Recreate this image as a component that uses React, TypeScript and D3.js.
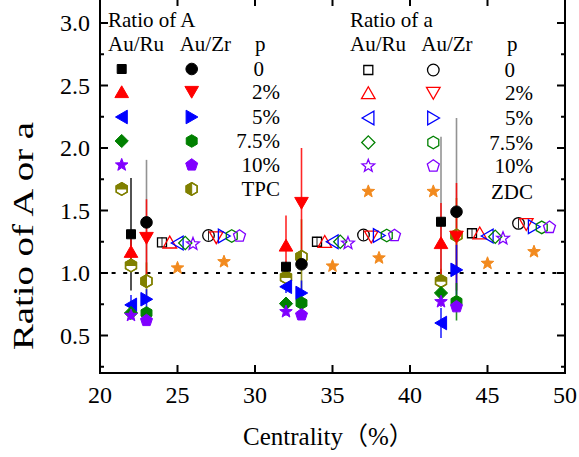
import React from 'react';
import * as d3 from 'd3';

const W = 579;
const H = 457;

// ---------- axes ----------
const xTicks = [20, 25, 30, 35, 40, 45, 50];
const yTicks = [0.5, 1.0, 1.5, 2.0, 2.5, 3.0];
const yMinorTicks = [0.25, 0.75, 1.25, 1.75, 2.25, 2.75];

// ---------- Ratio of A (filled markers) ----------
const xA_AuRu = [22, 32, 42];
const xA_AuZr = [23, 33, 43];

const A_AuRu_p0 = [1.31, 1.05, 1.41];
const A_AuRu_p2 = [1.17, 1.22, 1.24];
const A_AuRu_p5 = [0.745, 0.89, 0.6];
const A_AuRu_p75 = [0.68, 0.755, 0.84];
const A_AuRu_p10 = [0.66, 0.69, 0.77];
const A_AuRu_TPC = [1.06, 0.965, 0.935];

const A_AuRu_p0_err = [0.45, 0.04, 0.68];
const A_AuRu_p2_err = [0.1, 0.24, 0.32];
const A_AuRu_p5_err = [0.08, 0.05, 0.12];
const A_AuRu_p75_err = [0.04, 0.05, 0.06];
const A_AuRu_p10_err = [0.03, 0.03, 0.04];
const A_AuRu_TPC_err = [0.05, 0.05, 0.1];

const A_AuZr_p0 = [1.405, 1.07, 1.49];
const A_AuZr_p2 = [1.28, 1.56, 1.29];
const A_AuZr_p5 = [0.79, 0.84, 1.025];
const A_AuZr_p75 = [0.68, 0.76, 0.77];
const A_AuZr_p10 = [0.62, 0.665, 0.73];
const A_AuZr_TPC = [0.935, 1.13, 1.3];

const A_AuZr_p0_err = [0.5, 0.05, 0.75];
const A_AuZr_p2_err = [0.31, 0.44, 0.43];
const A_AuZr_p5_err = [0.08, 0.1, 0.2];
const A_AuZr_p75_err = [0.05, 0.06, 0.15];
const A_AuZr_p10_err = [0.03, 0.03, 0.04];
const A_AuZr_TPC_err = [0.15, 0.3, 0.3];

// ---------- Ratio of a (open markers) ----------
const xa_AuRu_p0 = [24, 34, 44];
const xa_AuRu_p2 = [24.5, 34.5, 44.5];
const xa_AuRu_p5 = [25, 35, 45];
const xa_AuRu_p75 = [25.5, 35.5, 45.5];
const xa_AuRu_p10 = [26, 36, 46];
const xa_AuRu_ZDC = [25, 35, 45];

const a_AuRu_p0 = [1.245, 1.25, 1.318];
const a_AuRu_p2 = [1.245, 1.25, 1.318];
const a_AuRu_p5 = [1.24, 1.25, 1.296];
const a_AuRu_p75 = [1.24, 1.25, 1.29];
const a_AuRu_p10 = [1.232, 1.238, 1.277];
const a_AuRu_ZDC = [1.04, 1.055, 1.077];

const xa_AuZr_p0 = [27, 37, 47];
const xa_AuZr_p2 = [27.5, 37.5, 47.5];
const xa_AuZr_p5 = [28, 38, 48];
const xa_AuZr_p75 = [28.5, 38.5, 48.5];
const xa_AuZr_p10 = [29, 39, 49];
const xa_AuZr_ZDC = [28, 38, 48];

const a_AuZr_p0 = [1.3, 1.304, 1.397];
const a_AuZr_p2 = [1.285, 1.29, 1.39];
const a_AuZr_p5 = [1.296, 1.3, 1.37];
const a_AuZr_p75 = [1.296, 1.3, 1.365];
const a_AuZr_p10 = [1.296, 1.3, 1.365];
const a_AuZr_ZDC = [1.09, 1.12, 1.17];

const a_black_err = [0.04, 0.04, 0.04];

const pLabelsA = ['0', '2%', '5%', '7.5%', '10%', 'TPC'];
const pLabelsa = ['0', '2%', '5%', '7.5%', '10%', 'ZDC'];

// ---------- colours ----------
const BLACK = '#000000';
const RED = '#ff0000';
const BLUE = '#0000ff';
const GREEN = '#008000';
const PURPLE = '#8000ff';
const OLIVE = '#808000';
const ORANGE = '#f28a1e';
const GRAY = '#808080';

type Shape =
  | 'square' | 'circle' | 'triUp' | 'triDown' | 'triLeft' | 'triRight'
  | 'diamond' | 'star' | 'pentagon' | 'hexagon' | 'hexTop' | 'hexLeft';

interface Series {
  xs: number[];
  ys: number[];
  errs?: number[];
  shape: Shape;
  color: string;
  errColors?: string[];
  open: boolean;
}

const filledSeries: Series[] = [
  { xs: xA_AuRu, ys: A_AuRu_TPC, errs: A_AuRu_TPC_err, shape: 'hexTop', color: OLIVE, open: false },
  { xs: xA_AuZr, ys: A_AuZr_TPC, errs: A_AuZr_TPC_err, shape: 'hexLeft', color: OLIVE, open: false },
  { xs: xA_AuRu, ys: A_AuRu_p0, errs: A_AuRu_p0_err, errColors: [BLACK, BLACK, GRAY], shape: 'square', color: BLACK, open: false },
  { xs: xA_AuZr, ys: A_AuZr_p0, errs: A_AuZr_p0_err, errColors: [GRAY, GRAY, GRAY], shape: 'circle', color: BLACK, open: false },
  { xs: xA_AuRu, ys: A_AuRu_p2, errs: A_AuRu_p2_err, shape: 'triUp', color: RED, open: false },
  { xs: xA_AuZr, ys: A_AuZr_p2, errs: A_AuZr_p2_err, shape: 'triDown', color: RED, open: false },
  { xs: xA_AuRu, ys: A_AuRu_p5, errs: A_AuRu_p5_err, shape: 'triLeft', color: BLUE, open: false },
  { xs: xA_AuZr, ys: A_AuZr_p5, errs: A_AuZr_p5_err, shape: 'triRight', color: BLUE, open: false },
  { xs: xA_AuRu, ys: A_AuRu_p75, errs: A_AuRu_p75_err, shape: 'diamond', color: GREEN, open: false },
  { xs: xA_AuZr, ys: A_AuZr_p75, errs: A_AuZr_p75_err, shape: 'hexagon', color: GREEN, open: false },
  { xs: xA_AuRu, ys: A_AuRu_p10, errs: A_AuRu_p10_err, shape: 'star', color: PURPLE, open: false },
  { xs: xA_AuZr, ys: A_AuZr_p10, errs: A_AuZr_p10_err, shape: 'pentagon', color: PURPLE, open: false },
];

const openSeries: Series[] = [
  { xs: xa_AuRu_p0, ys: a_AuRu_p0, errs: a_black_err, shape: 'square', color: BLACK, open: true },
  { xs: xa_AuRu_p2, ys: a_AuRu_p2, shape: 'triUp', color: RED, open: true },
  { xs: xa_AuRu_p5, ys: a_AuRu_p5, shape: 'triLeft', color: BLUE, open: true },
  { xs: xa_AuRu_p75, ys: a_AuRu_p75, shape: 'diamond', color: GREEN, open: true },
  { xs: xa_AuRu_p10, ys: a_AuRu_p10, shape: 'star', color: PURPLE, open: true },
  { xs: xa_AuRu_ZDC, ys: a_AuRu_ZDC, shape: 'star', color: ORANGE, open: false },
  { xs: xa_AuZr_p0, ys: a_AuZr_p0, errs: a_black_err, shape: 'circle', color: BLACK, open: true },
  { xs: xa_AuZr_p2, ys: a_AuZr_p2, shape: 'triDown', color: RED, open: true },
  { xs: xa_AuZr_p5, ys: a_AuZr_p5, shape: 'triRight', color: BLUE, open: true },
  { xs: xa_AuZr_p75, ys: a_AuZr_p75, shape: 'hexagon', color: GREEN, open: true },
  { xs: xa_AuZr_p10, ys: a_AuZr_p10, shape: 'pentagon', color: PURPLE, open: true },
  { xs: xa_AuZr_ZDC, ys: a_AuZr_ZDC, shape: 'star', color: ORANGE, open: false },
];

// legend rows reference the series specs
const legendA: [Series, Series][] = [
  [filledSeries[2], filledSeries[3]],
  [filledSeries[4], filledSeries[5]],
  [filledSeries[6], filledSeries[7]],
  [filledSeries[8], filledSeries[9]],
  [filledSeries[10], filledSeries[11]],
  [filledSeries[0], filledSeries[1]],
];
const legenda: [Series, Series][] = [
  [openSeries[0], openSeries[6]],
  [openSeries[1], openSeries[7]],
  [openSeries[2], openSeries[8]],
  [openSeries[3], openSeries[9]],
  [openSeries[4], openSeries[10]],
  [openSeries[5], openSeries[11]],
];

// ---------- scales ----------
const M = { left: 100, right: 565, top: -2, bottom: 373 };
const x = d3.scaleLinear().domain([20, 50]).range([M.left, M.right]);
const y = d3.scaleLinear().domain([0.2, 3.2]).range([M.bottom, M.top]);

const FONT = '"Liberation Serif", "Times New Roman", serif';

function poly(pts: [number, number][]) {
  return 'M' + pts.map((p) => p[0].toFixed(2) + ',' + p[1].toFixed(2)).join('L') + 'Z';
}
function regular(n: number, r: number, rot: number): [number, number][] {
  const pts: [number, number][] = [];
  for (let i = 0; i < n; i++) {
    const a = rot + (i * 2 * Math.PI) / n;
    pts.push([r * Math.sin(a), -r * Math.cos(a)]);
  }
  return pts;
}
function starPts(ro: number, ri: number): [number, number][] {
  const pts: [number, number][] = [];
  for (let i = 0; i < 10; i++) {
    const r = i % 2 === 0 ? ro : ri;
    const a = (i * Math.PI) / 5;
    pts.push([r * Math.sin(a), -r * Math.cos(a)]);
  }
  return pts;
}

function shapePath(shape: Shape): string {
  switch (shape) {
    case 'square':
      return poly([[-4.5, -4.5], [4.5, -4.5], [4.5, 4.5], [-4.5, 4.5]]);
    case 'circle': {
      const p = d3.path();
      p.arc(0, 0, 5.8, 0, Math.PI * 2);
      p.closePath();
      return p.toString();
    }
    case 'triUp':
      return poly([[0, -6.2], [6.8, 5.6], [-6.8, 5.6]]);
    case 'triDown':
      return poly([[0, 6.2], [6.8, -5.6], [-6.8, -5.6]]);
    case 'triLeft':
      return poly([[-6.2, 0], [5.6, -6.8], [5.6, 6.8]]);
    case 'triRight':
      return poly([[6.2, 0], [-5.6, -6.8], [-5.6, 6.8]]);
    case 'diamond':
      return poly([[0, -6.6], [6.6, 0], [0, 6.6], [-6.6, 0]]);
    case 'star':
      return poly(starPts(6.6, 2.8));
    case 'pentagon':
      return poly(regular(5, 6.3, 0));
    case 'hexagon':
    case 'hexTop':
    case 'hexLeft':
      return poly(regular(6, 6.3, 0));
  }
}

function Marker({ s, cx, cy }: { s: Series; cx: number; cy: number }) {
  const d = shapePath(s.shape);
  const tr = `translate(${cx},${cy})`;
  if (s.shape === 'hexTop' || s.shape === 'hexLeft') {
    const r = 6.3;
    const w = r * Math.cos(Math.PI / 6);
    const half =
      s.shape === 'hexTop'
        ? poly([[-w, 0], [-w, -r / 2], [0, -r], [w, -r / 2], [w, 0]])
        : poly([[0, -r], [-w, -r / 2], [-w, r / 2], [0, r]]);
    return (
      <g transform={tr}>
        <path d={d} fill="#ffffff" stroke={s.color} strokeWidth={1.4} />
        <path d={half} fill={s.color} stroke={s.color} strokeWidth={1} />
        <path d={d} fill="none" stroke={s.color} strokeWidth={1.4} />
      </g>
    );
  }
  return (
    <path
      transform={tr}
      d={d}
      fill={s.open ? 'none' : s.color}
      stroke={s.color}
      strokeWidth={s.open ? 1.3 : 1}
      strokeLinejoin="miter"
    />
  );
}

function ErrorBars({ s }: { s: Series }) {
  if (!s.errs) return null;
  return (
    <g>
      {s.xs.map((xv, i) => (
        <line
          key={i}
          x1={x(xv)}
          x2={x(xv)}
          y1={y(s.ys[i] - s.errs![i])}
          y2={y(s.ys[i] + s.errs![i])}
          stroke={s.errColors ? s.errColors[i] : s.color}
          strokeWidth={s.open ? 1 : 1.6}
          strokeOpacity={0.85}
        />
      ))}
    </g>
  );
}

function Legend({
  title, rows, labels, x0, colRu, colZr, pEnd, zeroEnd, pX, rowYs,
}: {
  title: string; rows: [Series, Series][]; labels: string[]; x0: number; colRu: number; colZr: number;
  pEnd: number; zeroEnd: number; pX: number; rowYs: number[];
}) {
  return (
    <g fontFamily={FONT} fontSize={21} fill="#000">
      <text x={x0} y={27}>{title}</text>
      <text x={x0} y={51}>Au/Ru</text>
      <text x={colZr - 12} y={51}>Au/Zr</text>
      <text x={pX} y={51}>p</text>
      {rows.map((r, i) => (
        <g key={i}>
          <Marker s={r[0]} cx={colRu} cy={rowYs[i]} />
          <Marker s={r[1]} cx={colZr} cy={rowYs[i]} />
          <text x={labels[i] === '0' ? zeroEnd : pEnd} y={rowYs[i] + 7} textAnchor="end">
            {labels[i]}
          </text>
        </g>
      ))}
    </g>
  );
}

export default function App() {
  // draw error bars of black series under the others
  const errOrder = [filledSeries[2], filledSeries[3], ...filledSeries.filter((_, i) => i !== 2 && i !== 3), ...openSeries];
  const all = [...filledSeries, ...openSeries];
  return (
    <svg
      width={W}
      height={H}
      viewBox={`0 0 ${W} ${H}`}
      style={{ position: 'absolute', left: 0, top: 0, background: '#fff' }}
    >
      <rect x={0} y={0} width={W} height={H} fill="#fff" />

      {/* reference line at 1 */}
      <line
        x1={M.left}
        x2={M.right}
        y1={y(1)}
        y2={y(1)}
        stroke="#000"
        strokeWidth={2.2}
        strokeDasharray="4 7.6"
      />

      {/* error bars */}
      {errOrder.map((s, i) => (
        <ErrorBars key={'e' + i} s={s} />
      ))}
      {/* markers */}
      {all.map((s, i) => (
        <g key={'m' + i}>
          {s.xs.map((xv, j) => (
            <Marker key={j} s={s} cx={x(xv)} cy={y(s.ys[j])} />
          ))}
        </g>
      ))}

      {/* legends */}
      <Legend
        title="Ratio of A"
        rows={legendA}
        labels={pLabelsA}
        x0={108}
        colRu={121.7}
        colZr={191.7}
        pEnd={280}
        zeroEnd={264}
        pX={255}
        rowYs={[69, 92, 117, 141, 165, 189]}
      />
      <Legend
        title="Ratio of a"
        rows={legenda}
        labels={pLabelsa}
        x0={350}
        colRu={368.3}
        colZr={433.3}
        pEnd={533}
        zeroEnd={515}
        pX={507}
        rowYs={[70, 93, 118, 142.5, 166, 191.5]}
      />

      {/* frame */}
      <rect
        x={M.left}
        y={M.top}
        width={M.right - M.left}
        height={M.bottom - M.top}
        fill="none"
        stroke="#000"
        strokeWidth={2}
      />

      {/* x ticks */}
      {xTicks.map((t) => (
        <g key={'x' + t}>
          <line x1={x(t)} x2={x(t)} y1={M.bottom} y2={M.bottom - 8} stroke="#000" strokeWidth={2} />
          <line x1={x(t)} x2={x(t)} y1={M.top} y2={M.top + 8} stroke="#000" strokeWidth={2} />
          <text x={x(t)} y={403} textAnchor="middle" fontFamily={FONT} fontSize={24}>
            {t}
          </text>
        </g>
      ))}
      {/* y ticks */}
      {yTicks.map((t) => (
        <g key={'y' + t}>
          <line x1={M.left} x2={M.left + 8} y1={y(t)} y2={y(t)} stroke="#000" strokeWidth={2} />
          <line x1={M.right} x2={M.right - 8} y1={y(t)} y2={y(t)} stroke="#000" strokeWidth={2} />
          <text x={90} y={y(t) + 8} textAnchor="end" fontFamily={FONT} fontSize={24}>
            {d3.format('.1f')(t)}
          </text>
        </g>
      ))}
      {yMinorTicks.map((t) => (
        <g key={'ym' + t}>
          <line x1={M.left} x2={M.left + 4} y1={y(t)} y2={y(t)} stroke="#000" strokeWidth={2} />
          <line x1={M.right} x2={M.right - 4} y1={y(t)} y2={y(t)} stroke="#000" strokeWidth={2} />
        </g>
      ))}

      {/* axis titles */}
      <text x={243} y={445} fontFamily={`${FONT}, "Noto Sans CJK SC"`} fontSize={25}>
        Centrality（%）
      </text>
      <text
        transform={`translate(33,236) rotate(-90)`}
        textAnchor="middle"
        fontFamily={FONT}
        fontSize={29}
        textLength={228}
        lengthAdjust="spacingAndGlyphs"
      >
        Ratio of A or a
      </text>
    </svg>
  );
}
